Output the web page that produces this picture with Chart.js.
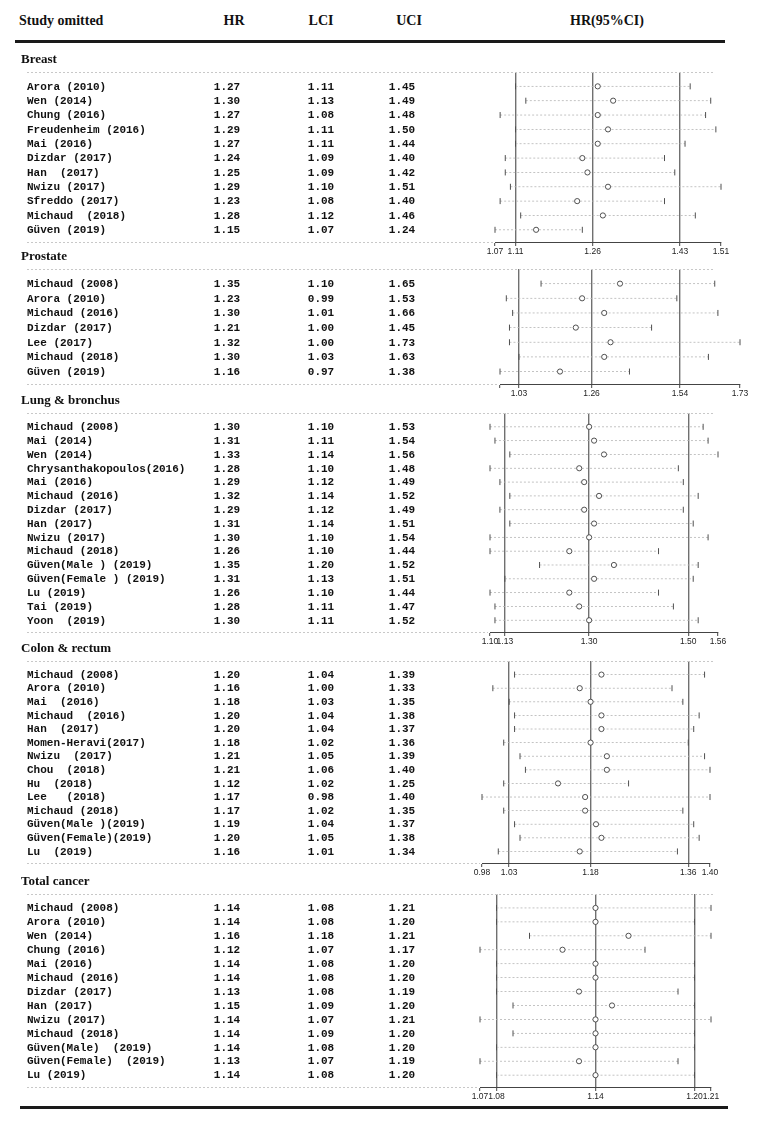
<!DOCTYPE html>
<html>
<head>
<meta charset="utf-8">
<script src="https://cdn.jsdelivr.net/npm/chart.js@4/dist/chart.umd.min.js"></script>
<style>
  body { margin: 0; background: #fff; }
  #page { position: relative; width: 760px; height: 1122px; }
  #page canvas { position: absolute; left: 0; }
  .hd { position: absolute; top: 13px; font: bold 14px "Liberation Serif", serif; color: #111; white-space: nowrap; }
  .rule { position: absolute; height: 3px; background: #1a1a1a; }
</style>
</head>
<body>
<div id="page">
  <div class="hd" style="left:19px">Study omitted</div>
  <div class="hd" style="left:234px;transform:translateX(-50%)">HR</div>
  <div class="hd" style="left:321px;transform:translateX(-50%)">LCI</div>
  <div class="hd" style="left:409px;transform:translateX(-50%)">UCI</div>
  <div class="hd" style="left:607px;transform:translateX(-50%)">HR(95%CI)</div>
  <div class="rule" style="left:15px;width:710px;top:40px"></div>
  <div class="rule" style="left:20px;width:708px;top:1106px"></div>
</div>
<script>
// sensitivity analysis (leave-one-out) — table on the left, forest plot per section on the right

// ── Breast ──────────────────────────────────
const breastStudies = ['Arora (2010)', 'Wen (2014)', 'Chung (2016)', 'Freudenheim (2016)', 'Mai (2016)',
  'Dizdar (2017)', 'Han  (2017)', 'Nwizu (2017)', 'Sfreddo (2017)', 'Michaud  (2018)', 'Güven (2019)'];
const breastHr  = [1.27, 1.30, 1.27, 1.29, 1.27, 1.24, 1.25, 1.29, 1.23, 1.28, 1.15];
const breastLci = [1.11, 1.13, 1.08, 1.11, 1.11, 1.09, 1.09, 1.10, 1.08, 1.12, 1.07];
const breastUci = [1.45, 1.49, 1.48, 1.50, 1.44, 1.40, 1.42, 1.51, 1.40, 1.46, 1.24];
const breastTicks = [1.07, 1.11, 1.26, 1.43, 1.51];

// ── Prostate ────────────────────────────────
const prostateStudies = ['Michaud (2008)', 'Arora (2010)', 'Michaud (2016)', 'Dizdar (2017)', 'Lee (2017)',
  'Michaud (2018)', 'Güven (2019)'];
const prostateHr  = [1.35, 1.23, 1.30, 1.21, 1.32, 1.30, 1.16];
const prostateLci = [1.10, 0.99, 1.01, 1.00, 1.00, 1.03, 0.97];
const prostateUci = [1.65, 1.53, 1.66, 1.45, 1.73, 1.63, 1.38];
const prostateTicks = [0.97, 1.03, 1.26, 1.54, 1.73];

// ── Lung & bronchus ─────────────────────────
const lungStudies = ['Michaud (2008)', 'Mai (2014)', 'Wen (2014)', 'Chrysanthakopoulos(2016)', 'Mai (2016)',
  'Michaud (2016)', 'Dizdar (2017)', 'Han (2017)', 'Nwizu (2017)', 'Michaud (2018)', 'Güven(Male ) (2019)',
  'Güven(Female ) (2019)', 'Lu (2019)', 'Tai (2019)', 'Yoon  (2019)'];
const lungHr  = [1.30, 1.31, 1.33, 1.28, 1.29, 1.32, 1.29, 1.31, 1.30, 1.26, 1.35, 1.31, 1.26, 1.28, 1.30];
const lungLci = [1.10, 1.11, 1.14, 1.10, 1.12, 1.14, 1.12, 1.14, 1.10, 1.10, 1.20, 1.13, 1.10, 1.11, 1.11];
const lungUci = [1.53, 1.54, 1.56, 1.48, 1.49, 1.52, 1.49, 1.51, 1.54, 1.44, 1.52, 1.51, 1.44, 1.47, 1.52];
const lungTicks = [1.10, 1.13, 1.30, 1.50, 1.56];

// ── Colon & rectum ──────────────────────────
const colonStudies = ['Michaud (2008)', 'Arora (2010)', 'Mai  (2016)', 'Michaud  (2016)', 'Han  (2017)',
  'Momen-Heravi(2017)', 'Nwizu  (2017)', 'Chou  (2018)', 'Hu  (2018)', 'Lee   (2018)', 'Michaud (2018)',
  'Güven(Male )(2019)', 'Güven(Female)(2019)', 'Lu  (2019)'];
const colonHr  = [1.20, 1.16, 1.18, 1.20, 1.20, 1.18, 1.21, 1.21, 1.12, 1.17, 1.17, 1.19, 1.20, 1.16];
const colonLci = [1.04, 1.00, 1.03, 1.04, 1.04, 1.02, 1.05, 1.06, 1.02, 0.98, 1.02, 1.04, 1.05, 1.01];
const colonUci = [1.39, 1.33, 1.35, 1.38, 1.37, 1.36, 1.39, 1.40, 1.25, 1.40, 1.35, 1.37, 1.38, 1.34];
const colonTicks = [0.98, 1.03, 1.18, 1.36, 1.40];

// ── Total cancer ────────────────────────────
const totalStudies = ['Michaud (2008)', 'Arora (2010)', 'Wen (2014)', 'Chung (2016)', 'Mai (2016)',
  'Michaud (2016)', 'Dizdar (2017)', 'Han (2017)', 'Nwizu (2017)', 'Michaud (2018)', 'Güven(Male)  (2019)',
  'Güven(Female)  (2019)', 'Lu (2019)'];
const totalHr  = [1.14, 1.14, 1.16, 1.12, 1.14, 1.14, 1.13, 1.15, 1.14, 1.14, 1.14, 1.13, 1.14];
const totalLci = [1.08, 1.08, 1.18, 1.07, 1.08, 1.08, 1.08, 1.09, 1.07, 1.09, 1.08, 1.07, 1.08];
const totalUci = [1.21, 1.20, 1.21, 1.17, 1.20, 1.20, 1.19, 1.20, 1.21, 1.20, 1.20, 1.19, 1.20];
// the plot draws Wen (2014) from ~1.10, not the 1.18 printed in the table
const totalLciPlotted = [1.08, 1.08, 1.10, 1.07, 1.08, 1.08, 1.08, 1.09, 1.07, 1.09, 1.08, 1.07, 1.08];
const totalTicks = [1.07, 1.08, 1.14, 1.20, 1.21];

// page layout: dashed top line y, axis y, plot left/right px
const SECTIONS = [
  { title: 'Breast',          names: breastStudies,   hr: breastHr,   lci: breastLci,   uci: breastUci,   ticks: breastTicks,   top: 72,  axisY: 242,  xl: 495, xr: 721 },
  { title: 'Prostate',        names: prostateStudies, hr: prostateHr, lci: prostateLci, uci: prostateUci, ticks: prostateTicks, top: 269, axisY: 384,  xl: 500, xr: 740, hideMinLabel: true },
  { title: 'Lung & bronchus', names: lungStudies,     hr: lungHr,     lci: lungLci,     uci: lungUci,     ticks: lungTicks,     top: 413, axisY: 632,  xl: 490, xr: 718 },
  { title: 'Colon & rectum',  names: colonStudies,    hr: colonHr,    lci: colonLci,    uci: colonUci,    ticks: colonTicks,    top: 661, axisY: 863,  xl: 482, xr: 710 },
  { title: 'Total cancer',    names: totalStudies,    hr: totalHr,    lci: totalLci,    uci: totalUci,    ticks: totalTicks,    top: 894, axisY: 1087, xl: 480, xr: 711, lciPlot: totalLciPlotted },
];

const PAD_TOP = 24;
const AXIS_H  = 18;
const MONO  = 'bold 11px "Liberation Mono", "Courier New", monospace';
const SERIF = 'bold 13px "Liberation Serif", "Times New Roman", serif';

Chart.defaults.font.family = '"Liberation Sans", Arial, sans-serif';

function dashed(ctx, x1, x2, y) {
  ctx.save();
  ctx.strokeStyle = '#c8c8c8';
  ctx.lineWidth = 1;
  ctx.setLineDash([2, 2]);
  ctx.beginPath();
  ctx.moveTo(x1, y + 0.5);
  ctx.lineTo(x2, y + 0.5);
  ctx.stroke();
  ctx.restore();
}

// table text + dashed separators, placed on the chart's own row scale
const tablePlugin = {
  id: 'table',
  beforeDatasetsDraw(chart, args, opts) {
    const { ctx, chartArea, scales } = chart;
    const s = opts.section;
    dashed(ctx, 27, 715, chartArea.top);
    dashed(ctx, 27, chartArea.left - 2, chartArea.bottom);
    ctx.save();
    ctx.fillStyle = '#111';
    ctx.textBaseline = 'middle';
    ctx.font = SERIF;
    ctx.textAlign = 'left';
    ctx.fillText(s.title, 21, chartArea.top - 12);
    ctx.font = MONO;
    s.names.forEach((name, i) => {
      const y = scales.y.getPixelForValue(i) + 0.5;
      ctx.textAlign = 'left';
      ctx.fillText(name, 27, y);
      ctx.textAlign = 'center';
      ctx.fillText(s.hr[i].toFixed(2), 227, y);
      ctx.fillText(s.lci[i].toFixed(2), 321, y);
      ctx.fillText(s.uci[i].toFixed(2), 402, y);
    });
    ctx.restore();
  },
};

const page = document.getElementById('page');

SECTIONS.forEach(s => {
  const n = s.names.length;
  const canvasTop = s.top - PAD_TOP;
  const h = s.axisY + AXIS_H - canvasTop;
  const cv = document.createElement('canvas');
  cv.width = 760;
  cv.height = h;
  cv.style.top = canvasTop + 'px';
  page.appendChild(cv);

  const lciPlot = s.lciPlot || s.lci;
  const refs = s.ticks.slice(1, 4);

  const datasets = [{
    data: s.hr.map((v, i) => ({ x: v, y: i })),
    pointStyle: 'circle',
    pointRadius: 2.6,
    pointBorderColor: '#404040',
    pointBackgroundColor: '#fff',
    pointBorderWidth: 0.9,
    showLine: false,
    clip: false,
  }];
  s.names.forEach((_, i) => {
    datasets.push({
      data: [{ x: lciPlot[i], y: i }, { x: s.uci[i], y: i }],
      showLine: true,
      borderColor: '#b5b5b5',
      borderWidth: 0.8,
      borderDash: [2, 2],
      pointStyle: 'line',
      rotation: 90,
      pointRadius: 3,
      pointBorderColor: '#505050',
      pointBorderWidth: 1,
      clip: false,
    });
  });

  new Chart(cv, {
    type: 'scatter',
    data: { datasets },
    options: {
      responsive: false,
      animation: false,
      layout: { padding: { top: PAD_TOP, left: s.xl, right: 760 - s.xr, bottom: 0 } },
      plugins: {
        legend: { display: false },
        tooltip: { enabled: false },
        table: { section: s },
      },
      scales: {
        x: {
          type: 'linear',
          min: s.ticks[0],
          max: s.ticks[4],
          afterBuildTicks: sc => { sc.ticks = s.ticks.map(v => ({ value: v })); },
          afterFit: sc => { sc.height = AXIS_H; },
          border: { display: true, color: '#444', width: 1 },
          grid: {
            drawOnChartArea: true,
            color: c => (c.tick && refs.includes(c.tick.value)) ? '#707070' : 'rgba(0,0,0,0)',
            lineWidth: 1.4,
            tickLength: 4,
            tickColor: '#444',
            tickWidth: 1,
          },
          ticks: {
            autoSkip: false,
            maxRotation: 0,
            padding: 1,
            color: '#222',
            font: { size: 8.5 },
            callback: (v, i) => (s.hideMinLabel && i === 0) ? '' : v.toFixed(2),
          },
        },
        y: { type: 'linear', display: false, reverse: true, min: -1, max: n - 0.15 },
      },
    },
    plugins: [tablePlugin],
  });
});
</script>
</body>
</html>
